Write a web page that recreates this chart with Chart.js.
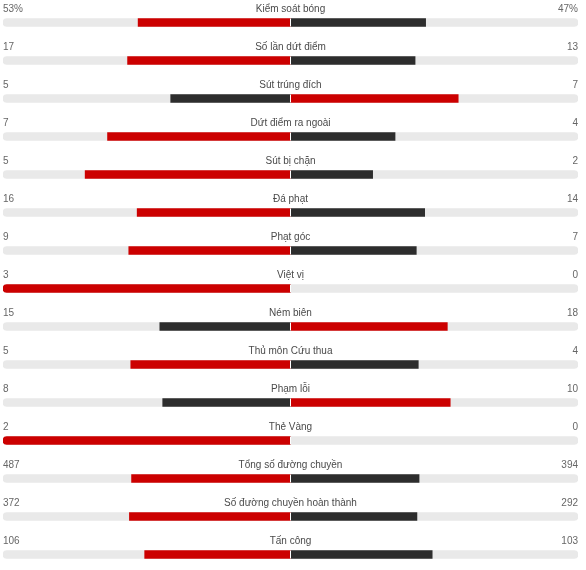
<!DOCTYPE html>
<html lang="vi">
<head>
<meta charset="UTF-8">
<title>Thống kê trận đấu</title>
<script src="https://cdn.jsdelivr.net/npm/chart.js"></script>
<style>
  html, body { margin: 0; padding: 0; background: #fff; overflow: hidden; }
  #wrap { width: 586px; height: 580px; }
</style>
</head>
<body>
<div id="wrap"><canvas id="stats" width="586" height="580"></canvas></div>
<script>
// stat names, home / away values, unit suffix
const statNames = ["Kiểm soát bóng", "Số lần dứt điểm", "Sút trúng đích", "Dứt điểm ra ngoài",
  "Sút bị chặn", "Đá phạt", "Phạt góc", "Việt vị", "Ném biên", "Thủ môn Cứu thua",
  "Phạm lỗi", "Thẻ Vàng", "Tổng số đường chuyền", "Số đường chuyền hoàn thành", "Tấn công"];
const homeValues = [53, 17, 5, 7, 5, 16, 9, 3, 15, 5, 8, 2, 487, 372, 106];
const awayValues = [47, 13, 7, 4, 2, 14, 7, 0, 18, 4, 10, 0, 394, 292, 103];
const units = ["%", "", "", "", "", "", "", "", "", "", "", "", "", "", ""];

const RED = "#cc0000";
const DARK = "#2d2d2d";
const TRACK = "#e9e9e9";

// shares of the total, left side negative
const homeShare = homeValues.map((v, i) => -v / (v + awayValues[i]));
const awayShare = awayValues.map((v, i) => v / (homeValues[i] + v));
const homeColors = homeValues.map((v, i) => v > awayValues[i] ? RED : DARK);
const awayColors = awayValues.map((v, i) => v > homeValues[i] ? RED : DARK);

const statText = {
  id: "statText",
  afterDatasetsDraw(chart) {
    const { ctx, scales: { x, y } } = chart;
    const cx = x.getPixelForValue(0);
    ctx.save();
    statNames.forEach((name, i) => {
      const cy = y.getPixelForValue(i);
      // thin white split in the middle
      ctx.fillStyle = "#fff";
      ctx.fillRect(Math.floor(cx), cy - 4, 1, 8);

      const base = cy - 10.5;
      ctx.font = "10px 'Liberation Sans', Arial, sans-serif";
      ctx.textBaseline = "alphabetic";
      ctx.fillStyle = "#666";
      ctx.textAlign = "left";
      ctx.fillText(homeValues[i] + units[i], x.getPixelForValue(-1), base);
      ctx.textAlign = "right";
      ctx.fillText(awayValues[i] + units[i], x.getPixelForValue(1), base);
      ctx.fillStyle = "#4a4a4a";
      ctx.textAlign = "center";
      ctx.fillText(name, cx, base);
    });
    ctx.restore();
  }
};

new Chart(document.getElementById("stats"), {
  type: "bar",
  data: {
    labels: statNames,
    datasets: [
      {
        data: statNames.map(() => [-1, 1]),
        backgroundColor: TRACK,
        borderRadius: 4,
        borderSkipped: false,
        order: 3
      },
      {
        data: homeShare,
        backgroundColor: homeColors,
        borderRadius: c => Math.abs(c.raw) >= 1 ? 4 : 0,
        order: 1
      },
      {
        data: awayShare,
        backgroundColor: awayColors,
        borderRadius: c => Math.abs(c.raw) >= 1 ? 4 : 0,
        order: 1
      }
    ]
  },
  options: {
    indexAxis: "y",
    responsive: false,
    animation: false,
    layout: { padding: { left: 3, right: 8, top: 3.5, bottom: 6.5 } },
    datasets: { bar: { grouped: false, barThickness: 8 } },
    scales: {
      x: { min: -1, max: 1, display: false },
      y: { display: false }
    },
    plugins: {
      legend: { display: false },
      tooltip: { enabled: false }
    }
  },
  plugins: [statText]
});
</script>
</body>
</html>
